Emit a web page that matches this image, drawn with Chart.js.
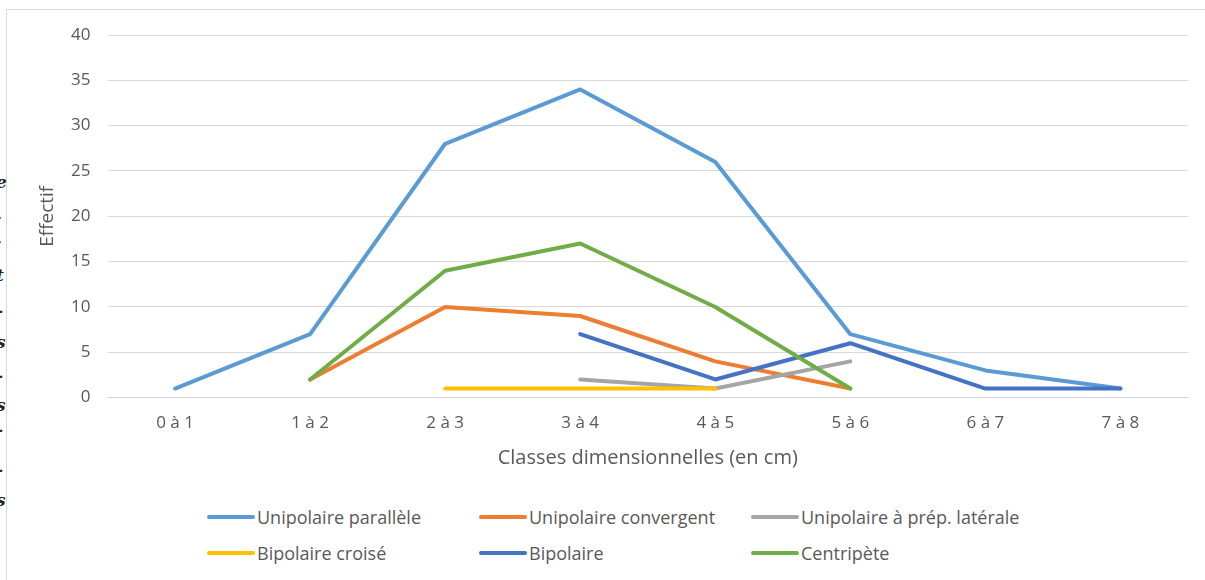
<!DOCTYPE html>
<html>
<head>
<meta charset="utf-8">
<script src="https://cdn.jsdelivr.net/npm/chart.js@4"></script>
<style>
body{margin:0;background:#fff;width:1205px;height:580px;overflow:hidden;position:relative;font-family:"Open Sans",sans-serif;}
#frame{position:absolute;left:6px;top:9px;width:1300px;height:700px;border:1px solid #d9d9d9;}
#wrap{position:absolute;left:0;top:0;width:1205px;height:482px;}
#legend{position:absolute;left:207px;top:505px;width:840px;display:grid;grid-template-columns:272px 272px 290px;row-gap:12px;font-size:18px;color:#595959;}
.item{display:flex;align-items:center;height:24px;white-space:nowrap;}
.sw{width:48px;height:4px;border-radius:2px;margin-right:2px;}
.frag{position:absolute;left:-4px;font-family:"DejaVu Serif",serif;font-style:italic;font-weight:bold;font-size:17px;color:#222;}
</style>
</head>
<body>
<div id="frame"></div>
<span class="frag" style="top:172px">e</span>
<span class="frag" style="top:204px">,</span>
<span class="frag" style="top:228px">.</span>
<span class="frag" style="top:265px">t</span>
<span class="frag" style="top:300px">-</span>
<span class="frag" style="top:332px">s</span>
<span class="frag" style="top:365px">-</span>
<span class="frag" style="top:395px">s</span>
<span class="frag" style="top:419px">-</span>
<span class="frag" style="top:459px">-</span>
<span class="frag" style="top:490px">s</span>
<div id="wrap"><canvas id="chart"></canvas></div>
<div id="legend"></div>
<script>
// catégories et séries
const classes = ["0 à 1","1 à 2","2 à 3","3 à 4","4 à 5","5 à 6","6 à 7","7 à 8"];
const seriesNames = ["Unipolaire parallèle","Unipolaire convergent","Unipolaire à prép. latérale","Bipolaire croisé","Bipolaire","Centripète"];
const seriesColors = ["#5B9BD5","#ED7D31","#A5A5A5","#FFC000","#4472C4","#70AD47"];

const unipolaireParallele = [1,7,28,34,26,7,3,1];
const unipolaireConvergent = [null,2,10,9,4,1,null,null];
const unipolaireLaterale = [null,null,null,2,1,4,null,null];
const bipolaireCroise = [null,null,1,1,1,null,null,null];
const bipolaire = [null,null,null,7,2,6,1,1];
const centripete = [null,2,14,17,10,1,null,null];

const seriesData = [unipolaireParallele,unipolaireConvergent,unipolaireLaterale,bipolaireCroise,bipolaire,centripete];

const datasets = seriesNames.map((name,i)=>{
return {
label:name,
data:seriesData[i],
borderColor:seriesColors[i],
backgroundColor:seriesColors[i],
borderWidth:4,
pointRadius:0,
tension:0,
spanGaps:false,
borderCapStyle:"round",
borderJoinStyle:"round",
order:seriesNames.length-i
};
});

const gray = "#595959";

new Chart(document.getElementById("chart"),{
type:"line",
data:{labels:classes,datasets:datasets},
options:{
responsive:true,
maintainAspectRatio:false,
animation:false,
layout:{padding:{top:35,right:17,left:36,bottom:8}},
plugins:{legend:{display:false},tooltip:{enabled:false}},
scales:{
x:{
offset:true,
grid:{display:false},
border:{display:true,color:"#d9d9d9"},
ticks:{color:gray,font:{family:"Open Sans",size:17},padding:7},
title:{display:true,text:"Classes dimensionnelles (en cm)",color:gray,font:{family:"Open Sans",size:20},padding:{top:6}}
},
y:{
min:0,max:40,
afterFit:(axis)=>{axis.width = 71.5;},
ticks:{stepSize:5,color:gray,font:{family:"Open Sans",size:17},padding:17},
grid:{color:"#d9d9d9",drawTicks:false},
border:{display:false},
title:{display:true,text:"Effectif",color:gray,font:{family:"Open Sans",size:19},padding:{top:0,bottom:10}}
}
}
}
});

// légende HTML
const legend = document.getElementById("legend");
seriesNames.forEach((name,i)=>{
const it = document.createElement("div");
it.className = "item";
it.innerHTML = '<span class="sw" style="background:'+seriesColors[i]+'"></span><span>'+name+'</span>';
legend.appendChild(it);
});
</script>
</body>
</html>
